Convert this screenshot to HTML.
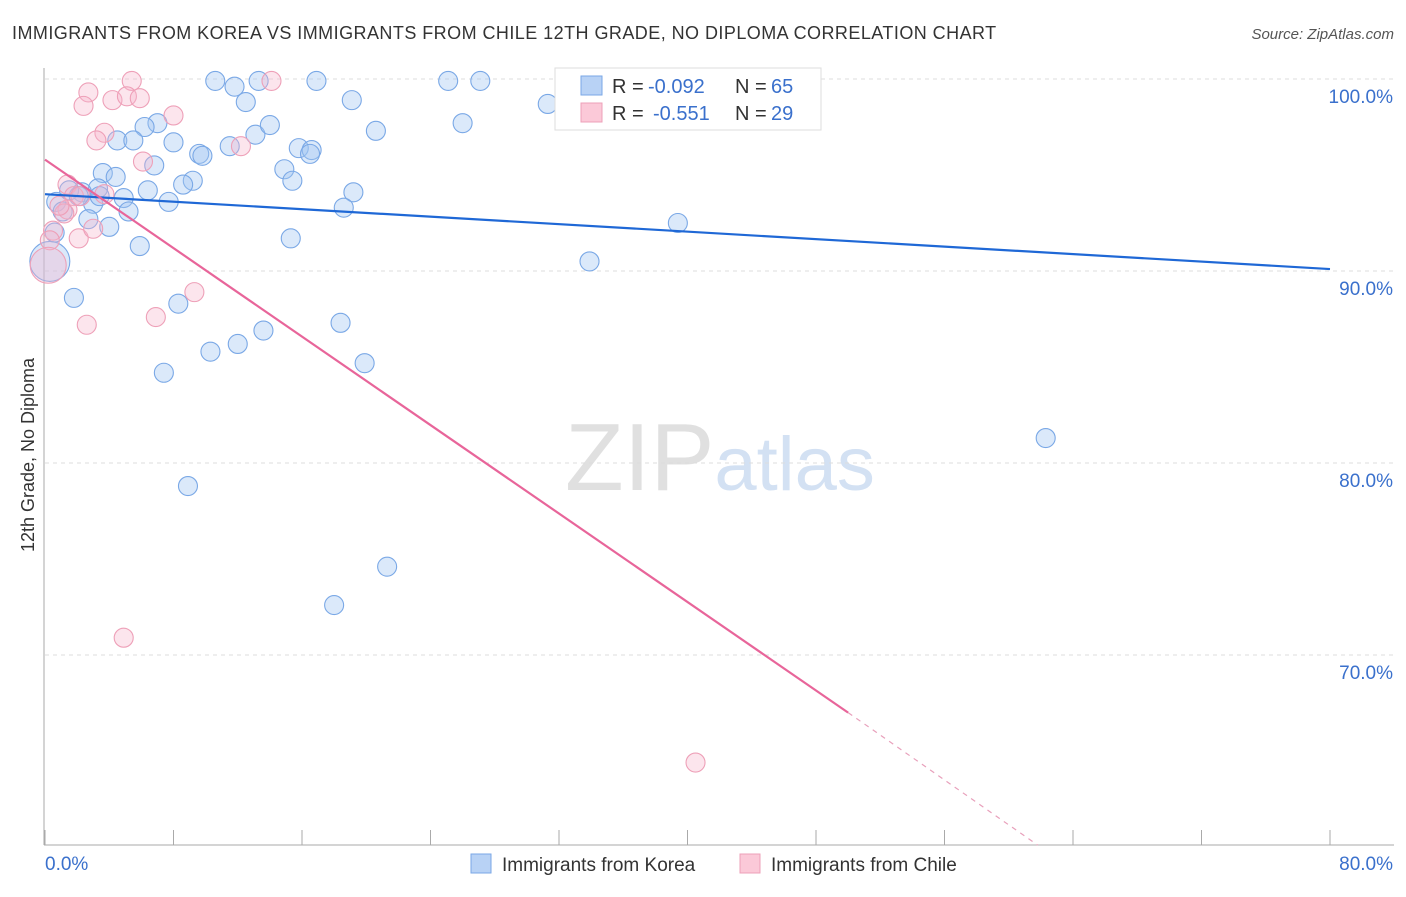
<!DOCTYPE html>
<html><head><meta charset="utf-8"><style>
body{margin:0;background:#fff;font-family:"Liberation Sans",sans-serif}
svg text{font-family:"Liberation Sans",sans-serif}
</style></head><body>
<svg id="chart" width="1406" height="892" xmlns="http://www.w3.org/2000/svg">
<text x="12" y="39" font-size="18" fill="#333" letter-spacing="0.45">IMMIGRANTS FROM KOREA VS IMMIGRANTS FROM CHILE 12TH GRADE, NO DIPLOMA CORRELATION CHART</text>
<text x="1394" y="39" font-size="15" fill="#555" text-anchor="end" font-style="italic">Source: ZipAtlas.com</text>
<text x="720" y="490" font-size="96" text-anchor="middle" fill="#e2e2e2" font-family="Liberation Serif"><tspan fill="#e0e0e0">ZIP</tspan><tspan fill="#d3e1f3" font-family="Liberation Sans" font-size="76">atlas</tspan></text>
<g id="grid"></g><g id="axes"></g><g id="pts"></g><g id="trends"></g>
<text transform="translate(34,455) rotate(-90)" font-size="18" fill="#333" text-anchor="middle">12th Grade, No Diploma</text>
<g>
<rect x="555" y="68" width="266" height="62" fill="#fff" stroke="#ddd"/>
<rect x="581" y="76" width="21" height="19" fill="#b8d2f5" stroke="#7aa7e6"/>
<rect x="581" y="103" width="21" height="19" fill="#fbc9d8" stroke="#eea0b8"/>
<text x="612" y="93" font-size="20" fill="#333">R =</text>
<text x="648" y="93" font-size="20" fill="#3a70cc">-0.092</text>
<text x="735" y="93" font-size="20" fill="#333">N =</text>
<text x="771" y="93" font-size="20" fill="#3a70cc">65</text>
<text x="612" y="120" font-size="20" fill="#333">R =</text>
<text x="653" y="120" font-size="20" fill="#3a70cc">-0.551</text>
<text x="735" y="120" font-size="20" fill="#333">N =</text>
<text x="771" y="120" font-size="20" fill="#3a70cc">29</text>
</g>
<g>
<rect x="471" y="854" width="20" height="19" fill="#b8d2f5" stroke="#7aa7e6"/>
<text x="502" y="871" font-size="19" fill="#333">Immigrants from Korea</text>
<rect x="740" y="854" width="20" height="19" fill="#fbc9d8" stroke="#eea0b8"/>
<text x="771" y="871" font-size="19" fill="#333">Immigrants from Chile</text>
</g>
</svg>
<script>
const yTicks=[100,90,80,70];
const xTickLabels=["0.0%","80.0%"];
const koreaX=[10.6,11.8,13.3,16.9,25.1,27.1,12.5,19.1,31.3,20.6,26.0,7.0,6.2,13.1,14.0,4.5,5.5,8.0,11.5,9.6,9.8,15.8,16.6,16.5,6.8,14.9,3.6,4.4,9.2,15.4,8.6,3.3,6.4,19.2,2.3,4.9,7.7,18.6,0.7,3.0,5.2,2.7,4.0,39.4,0.6,15.3,5.9,33.9,0.3,1.8,8.3,18.4,13.6,12.0,10.3,19.9,7.4,62.3,8.9,21.3,18.0,1.1,1.5,2.1,3.4];
const koreaY=[99.9,99.6,99.9,99.9,99.9,99.9,98.8,98.9,98.7,97.3,97.7,97.7,97.5,97.1,97.6,96.8,96.8,96.7,96.5,96.1,96.0,96.4,96.3,96.1,95.5,95.3,95.1,94.9,94.7,94.7,94.5,94.3,94.2,94.1,94.1,93.8,93.6,93.3,93.6,93.5,93.1,92.7,92.3,92.5,92.0,91.7,91.3,90.5,90.5,88.6,88.3,87.3,86.9,86.2,85.8,85.2,84.7,81.3,78.8,74.6,72.6,93.1,94.2,93.9,93.9];
const chileX=[5.4,14.1,2.7,2.4,4.2,5.1,5.9,8.0,3.7,3.2,12.2,6.1,1.4,1.8,1.4,1.2,2.2,3.7,0.5,0.3,2.1,3.0,0.2,9.3,6.9,2.6,4.9,40.5,0.9];
const chileY=[99.9,99.9,99.3,98.6,98.9,99.1,99.0,98.1,97.2,96.8,96.5,95.7,94.5,93.9,93.2,93.0,93.9,94.0,92.1,91.6,91.7,92.2,90.3,88.9,87.6,87.2,70.9,64.4,93.4];
const koreaTrend=[[0,94.0],[80,90.1]];
const chileTrend=[[0,95.8],[50,67.0]];
const chileTrendExt=[[50,67.0],[61.8,60.1]];
const X=v=>45+v*1285/80, Y=v=>79+(100-v)*19.2;
const NS="http://www.w3.org/2000/svg";
function mk(tag,attrs,parent){const e=document.createElementNS(NS,tag);for(const k in attrs)e.setAttribute(k,attrs[k]);document.getElementById(parent).appendChild(e);return e;}
yTicks.forEach(t=>{
 const l=mk('line',{x1:45,x2:1394,y1:Y(t),y2:Y(t),stroke:'#ddd','stroke-dasharray':'4,4'},'grid');
 
 
 const tx=mk('text',{x:1393,y:Y(t)+24,'font-size':19,fill:'#3a70cc','text-anchor':'end'},'grid');
 tx.textContent=t.toFixed(1)+'%';
 
 
});
const ya=mk('line',{x1:44,x2:44,y1:68,y2:845,stroke:'#aaa'},'axes');


const xa=mk('line',{x1:44,x2:1394,y1:845,y2:845,stroke:'#aaa'},'axes');


for(let i=0;i<=10;i++){const tk=mk('line',{x1:X(i*8),x2:X(i*8),y1:830,y2:845,stroke:'#aaa'},'axes');
 
 }
[[0,'start',45],[80,'end',1393]].forEach((d,i)=>{const tx=mk('text',{x:d[2],y:870,'font-size':19,fill:'#3a70cc','text-anchor':d[1]},'axes');tx.textContent=xTickLabels[i];
 
 });
koreaX.forEach((x,i)=>{const r=(i==48)?20:9.5;const c=mk('circle',{cx:X(x),cy:Y(koreaY[i]),r:r,fill:'rgba(160,196,242,0.38)',stroke:'#7aa8e6','stroke-width':1.1},'pts');
 
 });
chileX.forEach((x,i)=>{const r=(i==22)?18:9.5;const c=mk('circle',{cx:X(x),cy:Y(chileY[i]),r:r,fill:'rgba(247,180,202,0.35)',stroke:'#eea0b8','stroke-width':1.1},'pts');
 
 });
const kt=mk('line',{x1:X(koreaTrend[0][0]),y1:Y(koreaTrend[0][1]),x2:X(koreaTrend[1][0]),y2:Y(koreaTrend[1][1]),stroke:'#1f68d6','stroke-width':2.2},'trends');


const ct=mk('line',{x1:X(chileTrend[0][0]),y1:Y(chileTrend[0][1]),x2:X(chileTrend[1][0]),y2:Y(chileTrend[1][1]),stroke:'#e8659a','stroke-width':2.2},'trends');


const ce=mk('line',{x1:X(chileTrendExt[0][0]),y1:Y(chileTrendExt[0][1]),x2:X(chileTrendExt[1][0]),y2:Y(chileTrendExt[1][1]),stroke:'#e8a0bb','stroke-width':1.2,'stroke-dasharray':'5,5'},'trends');


</script>
</body></html>
